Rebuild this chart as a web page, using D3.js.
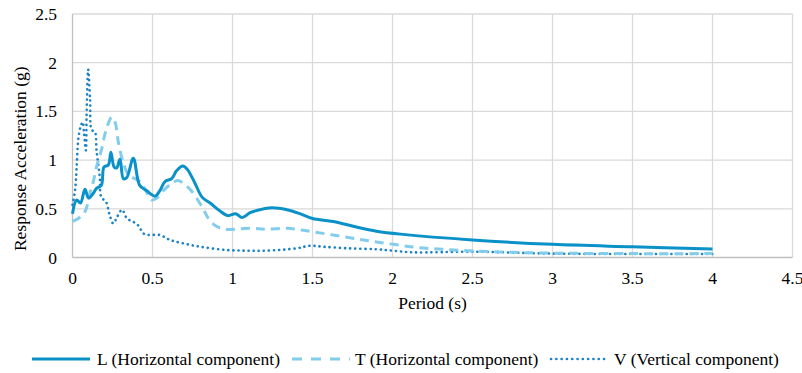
<!DOCTYPE html>
<html>
<head>
<meta charset="utf-8">
<script src="https://cdn.jsdelivr.net/npm/d3@7"></script>
</head>
<body style="margin:0">
<script>
// periods (s) and spectral accelerations (g)
const lPeriod = [0, 0.026, 0.05, 0.078, 0.1, 0.13, 0.15, 0.18, 0.197, 0.224, 0.24, 0.26, 0.276, 0.297, 0.318, 0.339, 0.38, 0.42, 0.46, 0.516, 0.547, 0.578, 0.62, 0.65, 0.69, 0.72, 0.766, 0.81, 0.86, 0.92, 0.97, 1.02, 1.06, 1.11, 1.17, 1.245, 1.34, 1.42, 1.5, 1.63, 1.78, 1.9, 2.05, 2.5, 3.0, 3.5, 4.0];
const lAccel  = [0.45, 0.59, 0.56, 0.70, 0.61, 0.66, 0.71, 0.74, 0.93, 0.95, 1.08, 0.93, 0.92, 1.01, 0.81, 0.82, 1.02, 0.74, 0.69, 0.63, 0.69, 0.78, 0.81, 0.89, 0.94, 0.90, 0.76, 0.62, 0.56, 0.48, 0.43, 0.45, 0.41, 0.46, 0.49, 0.51, 0.49, 0.45, 0.40, 0.37, 0.31, 0.27, 0.24, 0.18, 0.135, 0.11, 0.087];

const tPeriod = [0, 0.036, 0.068, 0.084, 0.105, 0.13, 0.15, 0.18, 0.21, 0.245, 0.266, 0.286, 0.318, 0.35, 0.42, 0.46, 0.495, 0.526, 0.57, 0.62, 0.66, 0.70, 0.74, 0.81, 0.85, 0.90, 0.96, 1.11, 1.21, 1.34, 1.48, 1.63, 1.78, 1.9, 2.05, 2.17, 2.31, 2.5, 2.75, 3.0, 3.5, 4.0];
const tAccel  = [0.37, 0.40, 0.45, 0.49, 0.64, 0.78, 0.93, 1.10, 1.31, 1.44, 1.39, 1.19, 0.97, 0.85, 0.78, 0.68, 0.59, 0.61, 0.69, 0.76, 0.79, 0.75, 0.69, 0.52, 0.40, 0.32, 0.29, 0.30, 0.29, 0.30, 0.27, 0.23, 0.19, 0.16, 0.125, 0.10, 0.085, 0.067, 0.053, 0.045, 0.04, 0.04];

const vPeriod = [0, 0.016, 0.026, 0.036, 0.05, 0.064, 0.072, 0.084, 0.088, 0.098, 0.11, 0.12, 0.14, 0.15, 0.17, 0.18, 0.21, 0.23, 0.255, 0.28, 0.31, 0.34, 0.376, 0.41, 0.45, 0.547, 0.61, 0.69, 0.8, 0.96, 1.09, 1.21, 1.4, 1.48, 1.57, 1.73, 1.9, 2.0, 2.13, 2.5, 3.0, 3.5, 4.0];
const vAccel  = [0.54, 0.69, 0.93, 1.21, 1.34, 1.39, 1.28, 1.10, 1.45, 1.93, 1.62, 1.31, 1.29, 1.10, 0.83, 0.62, 0.57, 0.45, 0.35, 0.42, 0.49, 0.40, 0.37, 0.33, 0.24, 0.23, 0.18, 0.146, 0.11, 0.077, 0.07, 0.07, 0.094, 0.12, 0.11, 0.094, 0.084, 0.07, 0.053, 0.06, 0.04, 0.036, 0.036];

const xTicks = [0, 0.5, 1, 1.5, 2, 2.5, 3, 3.5, 4, 4.5];
const yTicks = [0, 0.5, 1, 1.5, 2, 2.5];
const seriesNames = ["L (Horizontal component)", "T (Horizontal component)", "V (Vertical component)"];

const width = 802, height = 373;
const margin = {left: 72.5, right: 10, top: 14, bottom: 115.5};
const txtStyle = "font-family: 'Liberation Serif', 'Times New Roman', serif !important; font-size: 17.5px !important; fill: #000";

const svg = d3.select("body").append("svg")
    .attr("width", width).attr("height", height);

const x = d3.scaleLinear().domain([0, 4.5]).range([margin.left, width - margin.right + 0.5]);
const y = d3.scaleLinear().domain([0, 2.5]).range([height - margin.bottom, margin.top]);

// gridlines
svg.append("g").selectAll("line").data(yTicks.slice(1)).join("line")
    .attr("x1", x(0)).attr("x2", x(4.5))
    .attr("y1", d => y(d)).attr("y2", d => y(d))
    .attr("stroke", "#d9d9d9").attr("stroke-width", 1.3);
svg.append("g").selectAll("line").data(xTicks.slice(1)).join("line")
    .attr("x1", d => x(d)).attr("x2", d => x(d))
    .attr("y1", y(0)).attr("y2", y(2.5))
    .attr("stroke", "#d9d9d9").attr("stroke-width", 1.3);

// axis lines
svg.append("line").attr("x1", x(0)).attr("x2", x(4.5)).attr("y1", y(0)).attr("y2", y(0))
    .attr("stroke", "#bfbfbf").attr("stroke-width", 1.3);
svg.append("line").attr("x1", x(0)).attr("x2", x(0)).attr("y1", y(0)).attr("y2", y(2.5))
    .attr("stroke", "#bfbfbf").attr("stroke-width", 1.3);

// tick labels
svg.selectAll("text.ytick").data(yTicks).join("text")
    .attr("class", "ytick")
    .attr("x", 57).attr("y", d => y(d) + 6)
    .attr("text-anchor", "end")
    .attr("style", txtStyle)
    .text(d => d);
svg.selectAll("text.xtick").data(xTicks).join("text")
    .attr("class", "xtick")
    .attr("x", d => x(d)).attr("y", 284)
    .attr("text-anchor", "middle")
    .attr("style", txtStyle)
    .text(d => d);

// axis titles
svg.append("text").attr("x", (x(0) + x(4.5)) / 2).attr("y", 309)
    .attr("text-anchor", "middle")
    .attr("style", txtStyle)
    .text("Period (s)");
svg.append("text").attr("transform", "translate(26," + ((y(0) + y(2.5)) / 2 + 23) + ") rotate(-90)")
    .attr("text-anchor", "middle")
    .attr("style", txtStyle)
    .text("Response Acceleration (g)");

const line = d3.line().x(d => x(d[0])).y(d => y(d[1])).curve(d3.curveCatmullRom.alpha(0.5));

const styles = [
    {color: "#0a91c8", width: 3, dash: null, cap: "butt"},
    {color: "#82cdeb", width: 3, dash: "9,6", cap: "butt"},
    {color: "#1b82c6", width: 2.6, dash: "0.1,5", cap: "round"}
];
const series = [
    d3.zip(lPeriod, lAccel),
    d3.zip(tPeriod, tAccel),
    d3.zip(vPeriod, vAccel)
];

// draw back to front: V, T, L
[2, 1, 0].forEach(i => {
    svg.append("path").datum(series[i])
        .attr("fill", "none")
        .attr("stroke", styles[i].color)
        .attr("stroke-width", styles[i].width)
        .attr("stroke-dasharray", styles[i].dash)
        .attr("stroke-linecap", styles[i].cap)
        .attr("stroke-linejoin", "round")
        .attr("d", line);
});

// legend
const legendX = [32, 292, 551];
const lg = svg.append("g").selectAll("g").data(seriesNames).join("g")
    .attr("transform", (d, i) => "translate(" + legendX[i] + ",359)");
lg.append("line").attr("x1", 0).attr("x2", 58).attr("y1", 0).attr("y2", 0)
    .attr("stroke", (d, i) => styles[i].color)
    .attr("stroke-width", (d, i) => styles[i].width)
    .attr("stroke-dasharray", (d, i) => i === 1 ? "10,9" : (i === 2 ? "0.1,5.2" : null))
    .attr("stroke-linecap", (d, i) => styles[i].cap);
lg.append("text").attr("x", (d, i) => i === 0 ? 65 : 63).attr("y", 6)
    .attr("style", txtStyle)
    .text(d => d);
</script>
</body>
</html>
